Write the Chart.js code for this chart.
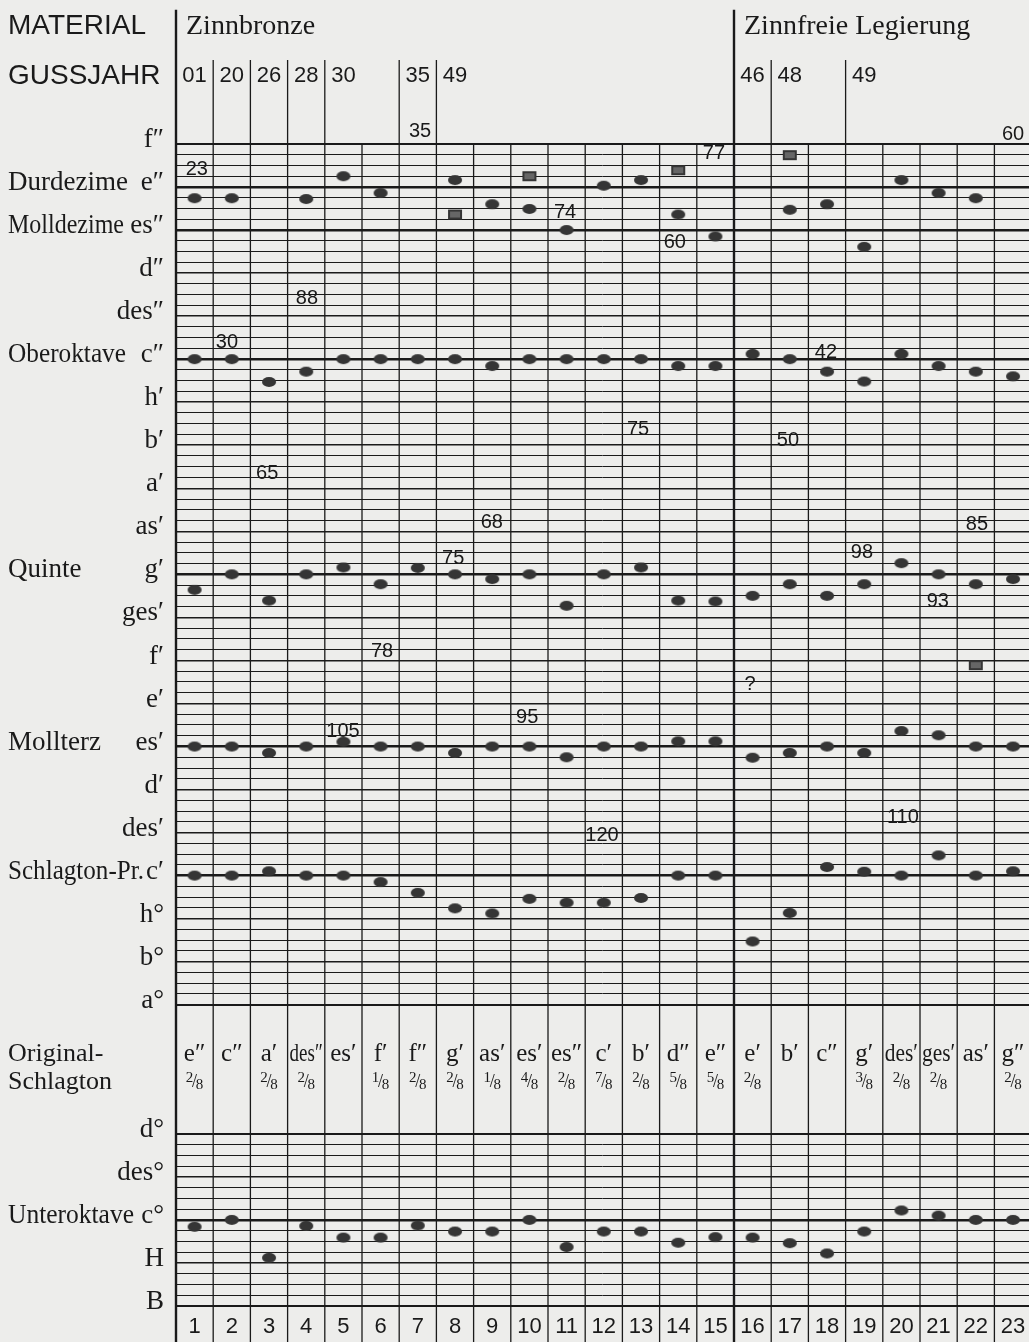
<!DOCTYPE html>
<html lang="de">
<head>
<meta charset="utf-8">
<title>Teiltöne – Zinnbronze und zinnfreie Legierung</title>
<script src="https://cdn.jsdelivr.net/npm/chart.js@4.4.1/dist/chart.umd.min.js"></script>
<style>
  html, body { margin: 0; padding: 0; background: #ededeb; overflow: hidden; }
  canvas { display: block; }
</style>
</head>
<body>
<canvas id="chart" width="1029" height="1342"></canvas>
<script>
// Glocken 1..23
const glocken = [1, 2, 3, 4, 5, 6, 7, 8, 9, 10, 11, 12, 13, 14, 15, 16, 17, 18, 19, 20, 21, 22, 23];

const material = ['Zinnbronze', 'Zinnfreie Legierung'];
const materialStart = [1, 16];

const gussjahr = ['01', '20', '26', '28', '30', '35', '49', '46', '48', '49'];
const gussjahrStart = [1, 2, 3, 4, 5, 7, 8, 16, 17, 19];

const originalSchlagton = ['e″', 'c″', 'a′', 'des″', 'es′', 'f′', 'f″', 'g′', 'as′', 'es′', 'es″', 'c′',
  'b′', 'd″', 'e″', 'e′', 'b′', 'c″', 'g′', 'des′', 'ges′', 'as′', 'g″'];
const originalAbweichung = ['2/8', '', '2/8', '2/8', '', '1/8', '2/8', '2/8', '1/8', '4/8', '2/8', '7/8',
  '2/8', '5/8', '5/8', '2/8', '', '', '3/8', '2/8', '2/8', '', '2/8'];

// Teiltöne in Halbtönen, auf Schlagton c' = 60 bezogen
const unteroktave = [47.84, 48.0, 47.12, 47.86, 47.59, 47.59, 47.87, 47.73, 47.73, 48.0, 47.37, 47.73,
  47.73, 47.47, 47.6, 47.59, 47.46, 47.22, 47.73, 48.22, 48.1, 48.0, 48.0];
const prime = [60.0, 60.0, 60.1, 60.0, 60.0, 59.85, 59.6, 59.24, 59.12, 59.46, 59.37, 59.37,
  59.48, 60.0, 60.0, 58.47, 59.13, 60.2, 60.09, 60.0, 60.47, 60.0, 60.1];
const mollterz = [63.0, 63.0, 62.85, 63.0, 63.11, 63.0, 63.0, 62.85, 63.0, 63.0, 62.75, 63.0,
  63.0, 63.12, 63.12, 62.74, 62.85, 63.0, 62.85, 63.36, 63.26, 63.0, 63.0];
const quinte = [66.64, 67.0, 66.39, 67.0, 67.16, 66.77, 67.15, 67.0, 66.89, 67.0, 66.27, 67.0,
  67.16, 66.39, 66.37, 66.5, 66.77, 66.5, 66.77, 67.26, 67.0, 66.77, 66.89];
const oberoktave = [72.0, 72.0, 71.47, 71.71, 72.0, 72.0, 72.0, 72.0, 71.84, 72.0, 72.0, 72.0,
  72.0, 71.84, 71.84, 72.12, 72.0, 71.71, 71.48, 72.12, 71.84, 71.71, 71.6];
const dezime = [75.74, 75.74, null, 75.72, 76.25, 75.86, null, 76.16, 75.6, 75.49, 75.0, 76.03,
  76.16, 75.36, 74.85, null, 75.47, 75.6, 74.61, 76.16, 75.86, 75.74, null];

// Nebentöne (Quadrate)
const nebenGlocke = [8, 10, 14, 17, 22];
const nebenTon = [75.36, 76.25, 76.39, 76.74, 64.89];

// eingetragene Zahlen
const zahlGlocke = [1.06, 7.06, 4.02, 10.96, 14.96, 13.91, 23.0, 1.87, 17.97, 12.92, 16.95, 2.95,
  8.99, 22.03, 7.95, 18.94, 20.98, 6.04, 15.93, 4.99, 9.94, 20.04, 11.95];
const zahlTon = [76.40, 77.28, 73.42, 75.40, 76.79, 74.72, 77.21, 72.38, 72.15, 70.36, 70.1, 69.34,
  68.2, 68.17, 67.36, 67.5, 66.38, 65.2, 64.43, 63.36, 63.67, 61.34, 60.93];
const zahlText = ['23', '35', '88', '74', '77', '60', '60', '30', '42', '75', '50', '65',
  '68', '85', '75', '98', '93', '78', '?', '105', '95', '110', '120'];

// Tonnamen der Achse
const tonWert = [77, 76, 75, 74, 73, 72, 71, 70, 69, 68, 67, 66, 65, 64, 63, 62, 61, 60, 59, 58, 57,
  50, 49, 48, 47, 46];
const tonName = ['f″', 'e″', 'es″', 'd″', 'des″', 'c″', 'h′', 'b′', 'a′', 'as′', 'g′', 'ges′', 'f′', 'e′',
  'es′', 'd′', 'des′', 'c′', 'h°', 'b°', 'a°', 'd°', 'des°', 'c°', 'H', 'B'];

const teiltonName = ['Durdezime', 'Molldezime', 'Oberoktave', 'Quinte', 'Mollterz', 'Schlagton-Pr.', 'Unteroktave'];
const teiltonTon = [76, 75, 72, 67, 63, 60, 48];
const teiltonBreite = [122, 116, 118, 90, 98, 136, 126];

// Achsenbruch: der untere Teil (B..d°) wird um 4 Halbtöne nach oben gerückt
const BRUCH = 4;
const achse = (p) => (p <= 52 ? p + BRUCH : p);

const ZEILE_MATERIAL = 79.73;
const ZEILE_JAHR = 78.58;
const ZEILE_ORIGINAL = 55.84;
const ZEILE_BRUCH = 55.2;

const GOTISCH = '"Liberation Serif", "DejaVu Serif", serif';
const ANTIQUA = '"Liberation Sans", "DejaVu Sans", sans-serif';
const TINTE = '#1a1a1a';

function punktBild(w, h, eckig) {
  const c = document.createElement('canvas');
  c.width = w + 2;
  c.height = h + 2;
  const g = c.getContext('2d');
  g.fillStyle = '#353535';
  if (eckig) {
    g.fillRect(1, 1, w, h);
    g.fillStyle = '#666';
    g.fillRect(3, 3, w - 4, h - 4);
  } else {
    g.beginPath();
    g.ellipse(c.width / 2, c.height / 2, w / 2, h / 2, 0, 0, Math.PI * 2);
    g.fill();
  }
  return c;
}
const kreis = punktBild(14, 10, false);
const quadrat = punktBild(14, 10, true);

function reihe(werte) {
  return glocken
    .map((g, i) => (werte[i] == null ? null : { x: g, y: achse(werte[i]) }))
    .filter((p) => p !== null);
}

function gitterTicks() {
  const ticks = [];
  const bereiche = [[57, 77], [46, 50]];
  bereiche.forEach(([von, bis]) => {
    for (let t = bis; t >= von - 0.001; t -= 0.25) {
      const ton = Math.round(t * 100) / 100;
      const i = tonWert.indexOf(ton);
      ticks.push({ value: achse(ton), ton, name: i >= 0 ? tonName[i] : '' });
    }
  });
  return ticks;
}

function bruch(ctx, text, cx, cy) {
  const [z, n] = text.split('/');
  ctx.font = '15px ' + GOTISCH;
  ctx.textAlign = 'center';
  ctx.fillText(z, cx - 5, cy - 4);
  ctx.fillText(n, cx + 5, cy + 3);
  ctx.font = '18px ' + GOTISCH;
  ctx.fillText('/', cx, cy);
}

const tabelle = {
  id: 'tabelle',
  beforeDraw(chart) {
    const { ctx, width, height } = chart;
    ctx.save();
    ctx.fillStyle = '#ededeb';
    ctx.fillRect(0, 0, width, height);
    ctx.restore();
  },
  beforeDatasetsDraw(chart) {
    const { ctx } = chart;
    const x = chart.scales.x;
    const y = chart.scales.y;
    ctx.save();
    ctx.strokeStyle = TINTE;
    ctx.fillStyle = TINTE;

    // Spaltenlinien
    for (let k = 0; k < glocken.length; k++) {
      const spalte = k + 1;
      const px = x.getPixelForValue(k + 0.5);
      let oben = y.getPixelForValue(77);
      ctx.lineWidth = 1.3;
      if (materialStart.includes(spalte)) {
        oben = y.getPixelForValue(80.12);
        ctx.lineWidth = 2.4;
      } else if (gussjahrStart.includes(spalte)) {
        oben = y.getPixelForValue(78.95);
      }
      ctx.beginPath();
      ctx.moveTo(px, oben);
      ctx.lineTo(px, chart.height);
      ctx.stroke();
    }

    ctx.textBaseline = 'middle';

    // Kopf
    ctx.textAlign = 'left';
    ctx.font = '28px ' + ANTIQUA;
    ctx.fillText('MATERIAL', 8, y.getPixelForValue(ZEILE_MATERIAL));
    ctx.fillText('GUSSJAHR', 8, y.getPixelForValue(ZEILE_JAHR));
    ctx.font = '28px ' + GOTISCH;
    material.forEach((m, i) => {
      ctx.fillText(m, x.getPixelForValue(materialStart[i] - 0.5) + 10, y.getPixelForValue(ZEILE_MATERIAL));
    });
    ctx.textAlign = 'center';
    ctx.font = '22px ' + ANTIQUA;
    gussjahr.forEach((j, i) => {
      ctx.fillText(j, x.getPixelForValue(gussjahrStart[i]), y.getPixelForValue(ZEILE_JAHR));
    });

    // Teiltonnamen
    ctx.textAlign = 'left';
    ctx.font = '27px ' + GOTISCH;
    teiltonName.forEach((n, i) => {
      ctx.fillText(n, 8, y.getPixelForValue(achse(teiltonTon[i])) - 4, teiltonBreite[i]);
    });
    ctx.font = '26px ' + GOTISCH;
    ctx.fillText('Original-', 8, y.getPixelForValue(ZEILE_ORIGINAL));
    ctx.fillText('Schlagton', 8, y.getPixelForValue(ZEILE_BRUCH));

    // Original-Schlagton Zeile
    const breite = x.getPixelForValue(1.5) - x.getPixelForValue(0.5);
    glocken.forEach((g, i) => {
      ctx.textAlign = 'center';
      ctx.font = '25px ' + GOTISCH;
      ctx.fillText(originalSchlagton[i], x.getPixelForValue(g), y.getPixelForValue(ZEILE_ORIGINAL), breite - 4);
      if (originalAbweichung[i]) {
        bruch(ctx, originalAbweichung[i], x.getPixelForValue(g), y.getPixelForValue(ZEILE_BRUCH));
      }
    });

    // eingetragene Zahlen
    ctx.textAlign = 'center';
    ctx.font = '20px ' + ANTIQUA;
    zahlText.forEach((t, i) => {
      ctx.fillText(t, x.getPixelForValue(zahlGlocke[i]), y.getPixelForValue(zahlTon[i]));
    });
    ctx.restore();
  }
};

const datensaetze = [
  ['Unteroktave', unteroktave], ['Schlagton-Prime', prime], ['Mollterz', mollterz],
  ['Quinte', quinte], ['Oberoktave', oberoktave], ['Dezime', dezime]
].map(([name, werte]) => ({
  label: name,
  data: reihe(werte),
  pointStyle: kreis,
  pointRadius: 6,
  showLine: false
}));
datensaetze.push({
  label: 'Nebenton',
  data: nebenGlocke.map((g, i) => ({ x: g, y: achse(nebenTon[i]) })),
  pointStyle: quadrat,
  pointRadius: 6,
  showLine: false
});

const referenz = [76, 75, 72, 67, 63, 60, 48];

new Chart(document.getElementById('chart'), {
  type: 'scatter',
  data: { datasets: datensaetze },
  plugins: [tabelle],
  options: {
    responsive: false,
    animation: false,
    layout: { padding: 0, autoPadding: false },
    plugins: { legend: { display: false }, tooltip: { enabled: false } },
    scales: {
      x: {
        type: 'linear',
        min: 0.5,
        max: 23.43,
        afterBuildTicks: (s) => { s.ticks = glocken.map((g) => ({ value: g })); },
        afterFit: (s) => { s.height = 36; s.paddingLeft = 0; s.paddingRight = 0; },
        grid: { display: false },
        border: { display: false },
        ticks: {
          autoSkip: false,
          maxRotation: 0,
          padding: 0,
          color: TINTE,
          font: { family: ANTIQUA, size: 22 },
          callback: (v) => String(v)
        }
      },
      y: {
        type: 'linear',
        min: 50,
        max: 80.345,
        afterBuildTicks: (s) => { s.ticks = gitterTicks(); },
        afterFit: (s) => { s.width = 176; s.paddingTop = 0; s.paddingBottom = 0; },
        border: { display: false },
        grid: {
          drawTicks: false,
          color: TINTE,
          lineWidth: (c) => {
            if (!c.tick) return 0;
            const t = c.tick.ton;
            if (referenz.includes(t)) return 2.6;
            if (t === 77 || t === 57 || t === 50 || t === 46) return 2;
            if (Number.isInteger(t)) return 1.5;
            return 1;
          }
        },
        ticks: {
          autoSkip: false,
          padding: 12,
          labelOffset: -4,
          color: TINTE,
          font: { family: GOTISCH, size: 27 },
          callback: (v, i, ticks) => ticks[i].name || ''
        }
      }
    }
  }
});
</script>
</body>
</html>
